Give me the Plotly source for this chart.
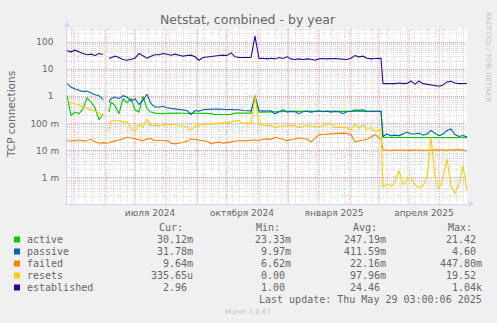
import pandas as pd
import plotly.graph_objects as go

# ---- time axis: one sample every 4 days over the 400-day window,
#      plus extra samples at the early-June outage and the March drop ----
start = pd.Timestamp("2024-04-24")
end = pd.Timestamp("2025-05-29")
grid = [start + pd.Timedelta(days=4 * i) for i in range(101)]
dates = (grid[:10]
         + [pd.Timestamp("2024-06-03"), pd.Timestamp("2024-06-05")]
         + grid[11:79]
         + [pd.Timestamp("2025-03-04")]
         + grid[79:])

# ---- series (connections) ----
established = [47.8, 43.9, 50.6, 42.7, 38, 34, 35.9, 32, 38, 35, None, 24.8, 27.1, 30.3, 27, 22.8, 21.5, 24, 25.5, 38, 30.3, 25.5, 30, 34, 34, 38,
               35.9, 33, 35.9, 34, 30.3, 32, 33, 28.6, 21.5, 27, 28.6, 30.3, 30.3, 32, 33, 32, 40, 28.6, 27, 27, 26.3, 27, 167, 24.8, 25.5, 24,
               25.5, 24, 27, 24.8, 28.6, 24, 22.8, 24, 22.8, 24, 23.4, 21.5, 24, 24.8, 24, 24.8, 24.8, 24, 24, 22.8, 25.5, 32, 28.6, 30.3, 25.5,
               24, 24.8, 25.5, 25.0, 2.94, 2.94, 2.86, 2.94, 3.1, 2.94, 3.0, 3.7, 2.78, 3.7, 2.94, 2.78, 2.6, 2.55, 2.35, 2.6, 3.4, 3.6, 3.1, 2.94, 2.86, 2.96]

passive = [2.94, 2.22, 1.87, 1.72, 1.49, 1.58, 1.33, 1.15, 1.06, 0.75, None, 0.617, 0.82, 0.945, 0.82, 1.06, 0.945, 0.67, 0.82, 0.5, 0.71, 1.19, 0.535, 0.403, 0.403, 0.43,
           0.38, 0.36, 0.34, 0.32, 0.303, 0.30, 0.216, 0.30, 0.285, 0.32, 0.33, 0.34, 0.35, 0.34, 0.33, 0.33, 0.32, 0.33, 0.32, 0.30, 0.30, 0.29, 0.95, 0.30, 0.285, 0.285,
           0.295, 0.228, 0.27, 0.32, 0.263, 0.278, 0.27, 0.228, 0.27, 0.285, 0.263, 0.278, 0.295, 0.27, 0.285, 0.263, 0.278, 0.27, 0.228, 0.27, 0.278, 0.32, 0.303, 0.32, 0.27,
           0.278, 0.285, 0.278, 0.28, 0.033, 0.041, 0.035, 0.037, 0.035, 0.041, 0.048, 0.041, 0.041, 0.044, 0.037, 0.041, 0.055, 0.044, 0.035, 0.041, 0.055, 0.063, 0.039, 0.033, 0.036, 0.0318]

active = [1.09, 0.198, 0.263, 0.228, 0.35, 0.87, 0.62, 0.38, 0.137, 0.228, None, 0.263, 0.62, 0.46, 0.228, 0.82, 0.57, 0.82, 0.32, 0.263, 1.0, 0.35, 0.263, 0.24, 0.228, 0.228,
          0.235, 0.24, 0.24, 0.24, 0.238, 0.24, 0.24, 0.238, 0.236, 0.235, 0.235, 0.23, 0.215, 0.215, 0.214, 0.215, 0.216, 0.24, 0.24, 0.241, 0.24, 0.24, 1.09, 0.26, 0.26, 0.265,
          0.27, 0.272, 0.275, 0.275, 0.278, 0.278, 0.276, 0.278, 0.28, 0.278, 0.277, 0.278, 0.28, 0.278, 0.279, 0.278, 0.28, 0.278, 0.278, 0.279, 0.28, 0.278, 0.28, 0.279, 0.278,
          0.278, 0.279, 0.278, 0.278, 0.0302, 0.0301, 0.0301, 0.0302, 0.0301, 0.0301, 0.0302, 0.0301, 0.0301, 0.0302, 0.0301, 0.0301, 0.0302, 0.0301, 0.0301, 0.0302, 0.0301, 0.0301, 0.0301, 0.0302, 0.0301, 0.03012]

failed = [0.0245, 0.022, 0.0234, 0.0245, 0.0228, 0.0234, 0.026, 0.021, 0.0186, 0.0197, 0.0186, 0.019, 0.021, 0.0234, 0.0245, 0.027, 0.031, 0.029, 0.027, 0.026, 0.0234, 0.027, 0.0277, 0.0234, 0.0234, 0.0245,
          0.0234, 0.0186, 0.0177, 0.0186, 0.0204, 0.022, 0.027, 0.026, 0.0245, 0.0234, 0.022, 0.0177, 0.0197, 0.0204, 0.0186, 0.0197, 0.021, 0.0234, 0.0234, 0.0228, 0.0234, 0.0245, 0.0245, 0.0234, 0.026, 0.027,
          0.026, 0.031, 0.029, 0.026, 0.0234, 0.0255, 0.028, 0.029, 0.028, 0.026, 0.021, 0.029, 0.038, 0.039, 0.039, 0.0414, 0.043, 0.044, 0.044, 0.043, 0.039, 0.021, 0.022, 0.0245, 0.026,
          0.033, 0.039, 0.029, 0.028, 0.0106, 0.0103, 0.0101, 0.0104, 0.0102, 0.0100, 0.0103, 0.0105, 0.0102, 0.0104, 0.0103, 0.0101, 0.0104, 0.0106, 0.0103, 0.0105, 0.0104, 0.0106, 0.0108, 0.0110, 0.0104, 0.00964]

resets = [0.71, 0.566, 0.535, 0.48, 0.403, 0.36, 0.32, 0.29, 0.24, 0.18, None, 0.055, 0.122, 0.129, 0.122, 0.112, 0.112, 0.062, 0.055, 0.092, 0.073, 0.145, 0.084, 0.087, 0.084, 0.089,
          0.087, 0.089, 0.094, 0.087, 0.082, 0.073, 0.058, 0.079, 0.087, 0.089, 0.094, 0.097, 0.097, 0.10, 0.105, 0.109, 0.119, 0.122, 0.129, 0.097, 0.109, 0.097, 1.0, 0.092, 0.089, 0.084,
          0.087, 0.068, 0.077, 0.082, 0.084, 0.087, 0.082, 0.069, 0.079, 0.084, 0.079, 0.077, 0.073, 0.084, 0.094, 0.097, 0.069, 0.073, 0.071, 0.069, 0.058, 0.092, 0.066, 0.087, 0.058,
          0.073, 0.052, 0.055, 0.062, 0.00044, 0.00058, 0.0005, 0.00068, 0.0018, 0.00055, 0.0009, 0.00103, 0.00055, 0.00042, 0.0005, 0.00103, 0.031, 0.00103, 0.00038, 0.00103, 0.0049, 0.0005, 0.00026, 0.00058, 0.0028, 0.000336]

# ---- legend table ----
names = ["active", "passive", "failed", "resets", "established"]
colors = ["#00CC00", "#0066B3", "#FF8000", "#FFCC00", "#330099"]
cur_vals = ["30.12m", "31.78m", "9.64m", "335.65u", "2.96"]
min_vals = ["23.33m", "9.97m", "6.62m", "0.00", "1.00"]
avg_vals = ["247.19m", "411.59m", "22.16m", "97.96m", "24.46"]
max_vals = ["21.42", "4.60", "447.80m", "19.52", "1.04k"]

# ---- axis labels ----
y_tick_vals = [1e-3, 1e-2, 1e-1, 1, 10, 100]
y_tick_text = ["1 m", "10 m", "100 m", "1\u00a0\u00a0", "10\u00a0\u00a0", "100\u00a0\u00a0"]
x_label_dates = ["2024-07-16", "2024-10-16", "2025-01-16", "2025-04-16"]
x_label_text = ["июля 2024", "октября 2024", "января 2025", "апреля 2025"]

W, H = 497, 323
L, R, T, B = 67, 30, 28, 119
PW, PH = W - L - R, H - T - B

def px(x):
    return (x - L) / PW

def py(y):
    return (T + PH - y) / PH

FONT = "DejaVu Sans"
MONO = "DejaVu Sans Mono"
TXT = "#666666"
AXIS = "#CFD6F8"
MGRID = "rgba(255,0,0,0.38)"
GRID = "rgba(143,143,143,0.32)"

fig = go.Figure()
series = [active, passive, failed, resets, established]
for name, col, vals in zip(names, colors, series):
    fig.add_trace(go.Scatter(x=dates, y=vals, mode="lines", name=name,
                             line=dict(color=col, width=1.1), connectgaps=False,
                             hoverinfo="skip", showlegend=False))

# minor decade gridlines and calendar gridlines
minor_y = [m * 10.0 ** e for e in range(-4, 3) for m in range(2, 10)]
weeks = list(pd.date_range("2024-04-28", end, freq="7D"))
month_starts = list(pd.date_range("2024-05-01", end, freq="MS"))

shapes = []
for d in month_starts:
    shapes.append(dict(type="line", xref="x", yref="paper", x0=d, x1=d, y0=0, y1=1,
                       line=dict(color=MGRID, width=1, dash="1px,1px"), layer="below"))

# axis arrows
shapes.append(dict(type="line", xref="paper", yref="paper", x0=0, x1=0, y0=1, y1=py(24),
                   line=dict(color=AXIS, width=1)))
shapes.append(dict(type="path", xref="paper", yref="paper",
                   path=f"M {px(64)} {py(27)} L {px(70)} {py(27)} L {px(67)} {py(21)} Z",
                   fillcolor=AXIS, line=dict(width=0)))
shapes.append(dict(type="line", xref="paper", yref="paper", x0=1, x1=px(470), y0=0, y1=0,
                   line=dict(color=AXIS, width=1)))
shapes.append(dict(type="path", xref="paper", yref="paper",
                   path=f"M {px(469)} {py(201)} L {px(469)} {py(207)} L {px(474)} {py(204)} Z",
                   fillcolor=AXIS, line=dict(width=0)))

# legend swatches
row_y = [239.5 + 12 * i for i in range(5)]
for col, ry in zip(colors, row_y):
    shapes.append(dict(type="rect", xref="paper", yref="paper",
                       x0=px(14), x1=px(20), y0=py(ry + 3), y1=py(ry - 3),
                       fillcolor=col, line=dict(width=0)))

ann = []
def text(x, y, s, size, family=FONT, color=TXT, xanchor="center", angle=0):
    ann.append(dict(xref="paper", yref="paper", x=px(x), y=py(y), text=s, showarrow=False,
                    xanchor=xanchor, yanchor="middle", textangle=angle,
                    font=dict(family=family, size=size, color=color), borderpad=0))

text(248, 19, "Netstat, combined - by year", 12.5)
text(11, 114, "TCP connections", 10.5, angle=-90)
text(488, 57, "RRDTOOL / TOBI OETIKER", 7, color="#c4c4c4", angle=90)

for lab, lx in zip(["Cur:", "Min:", "Avg:", "Max:"], [158, 255, 352, 447]):
    text(lx, 228, lab, 10, family=MONO, xanchor="left")

def cell(v):
    return v if v[-1].isalpha() else v + "\u00a0"

for i, ry in enumerate(row_y):
    text(26, ry, names[i], 10, family=MONO, xanchor="left")
    text(194, ry, cell(cur_vals[i]), 10, family=MONO, xanchor="right")
    text(291.5, ry, cell(min_vals[i]), 10, family=MONO, xanchor="right")
    text(387, ry, cell(avg_vals[i]), 10, family=MONO, xanchor="right")
    text(483, ry, cell(max_vals[i]), 10, family=MONO, xanchor="right")

text(483, 299.5, "Last update: Thu May 29 03:00:06 2025", 10, family=MONO, xanchor="right")
text(247.5, 312, "Munin 2.0.67", 7, color="#c4c4c4")

fig.update_layout(
    width=W, height=H,
    margin=dict(l=L, r=R, t=T, b=B, pad=0),
    paper_bgcolor="#F0F0F0", plot_bgcolor="#FFFFFF",
    shapes=shapes, annotations=ann,
    xaxis=dict(type="date", range=[start, end], tickmode="array",
               tickvals=x_label_dates, ticktext=x_label_text, showgrid=False,
               ticks="", tickfont=dict(family=FONT, size=9, color=TXT),
               showline=True, linecolor=AXIS, linewidth=1, zeroline=False,
               minor=dict(tickmode="array", tickvals=weeks, showgrid=True,
                          gridcolor=GRID, griddash="1px,1px", gridwidth=1, ticks="")),
    yaxis=dict(type="log", range=[-3.97, 2.52], tickmode="array",
               tickvals=y_tick_vals, ticktext=y_tick_text, showgrid=True,
               gridcolor=MGRID, griddash="1px,1px", gridwidth=1,
               ticks="", tickfont=dict(family=FONT, size=9, color=TXT),
               ticklabelstandoff=5,
               showline=True, linecolor=AXIS, linewidth=1, zeroline=False,
               minor=dict(tickmode="array", tickvals=minor_y, showgrid=True,
                          gridcolor=GRID, griddash="1px,1px", gridwidth=1, ticks="")),
)

fig.write_html("out.html")
